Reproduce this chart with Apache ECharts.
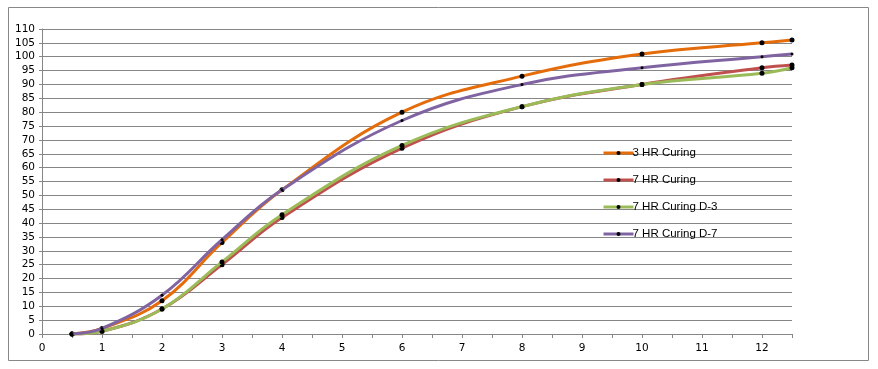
<!DOCTYPE html>
<html><head><meta charset="utf-8">
<script src="https://cdn.jsdelivr.net/npm/echarts@6/dist/echarts.min.js"></script>
<style>html,body{margin:0;padding:0;background:#fff}#c{width:878px;height:369px}</style>
</head><body><div id="c"></div>
<script>
const xValues = [0.5, 1, 2, 3, 4, 6, 8, 10, 12, 12.5];
const seriesNames = ['3 HR Curing', '7 HR Curing', '7 HR Curing D-3', '7 HR Curing D-7'];
const hr3 = [0, 2, 12, 33, 52, 80, 93, 101, 105, 106];
const hr7 = [0, 1, 9, 25, 42, 67, 82, 90, 96, 97];
const hr7d3 = [0, 1, 9, 26, 43, 68, 82, 90, 94, 96];
const hr7d7 = [0, 2, 14, 34, 52, 77, 90, 96, 100, 101];
const colors = ['#E46C0A', '#C0504D', '#9BBB59', '#8064A2'];
const allValues = [hr3, hr7, hr7d3, hr7d7];

const chart = echarts.init(document.getElementById('c'), null, {renderer: 'canvas'});
const font = 'DejaVu Sans, sans-serif';
chart.setOption({
  animation: false,
  backgroundColor: '#fff',
  graphic: [{type: 'rect', shape: {x: 8.5, y: 7.5, width: 860, height: 353}, style: {fill: 'none', stroke: '#888', lineWidth: 1}, silent: true}],
  legend: {
    orient: 'vertical', left: 597, top: 141, itemGap: 13, itemWidth: 30, itemHeight: 5,
    lineStyle: {width: 3},
    textStyle: {fontFamily: 'Liberation Sans, sans-serif', fontSize: 11.5, color: '#000', padding: [0, 0, 0, -6], lineHeight: 14},
    data: seriesNames
  },
  grid: {left: 42, right: 86, top: 29, bottom: 35, containLabel: false},
  xAxis: {
    type: 'value', min: 0, max: 12.5, interval: 0.5,
    axisLine: {lineStyle: {color: '#868686'}},
    axisTick: {show: true, length: 4, lineStyle: {color: '#868686'}},
    axisLabel: {fontFamily: font, fontSize: 10.5, color: '#000', margin: 9,
      formatter: v => Number.isInteger(v) ? String(v) : ''},
    splitLine: {show: false}
  },
  yAxis: {
    type: 'value', min: 0, max: 110, interval: 5,
    axisLine: {show: true, lineStyle: {color: '#868686'}},
    axisTick: {show: true, length: 3, lineStyle: {color: '#868686'}},
    axisLabel: {fontFamily: font, fontSize: 10.5, color: '#000', margin: 7},
    splitLine: {lineStyle: {color: '#868686', width: 1}}
  },
  series: seriesNames.map((n, i) => ({
    name: n, type: 'line', smooth: 0.4,
    data: xValues.map((x, j) => [x, allValues[i][j]]),
    symbol: 'circle', symbolSize: i === 3 ? 3 : 5,
    lineStyle: {color: colors[i], width: 3},
    itemStyle: {color: '#000', borderWidth: 0},
    z: i === 3 ? 5 : 2 + i
  }))
});
</script></body></html>
